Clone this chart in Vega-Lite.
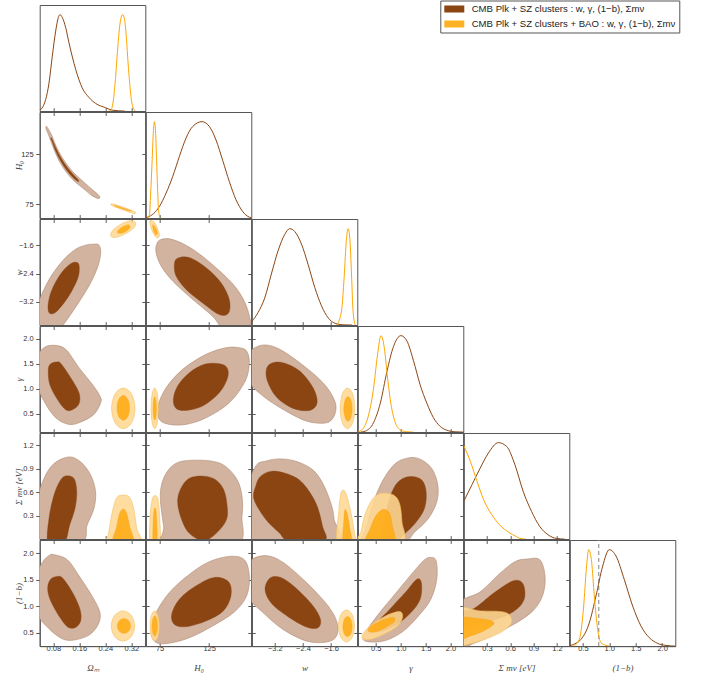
{
  "$schema": "https://vega.github.io/schema/vega-lite/v6.json",
  "background": "white",
  "padding": {"left": 13.7, "top": 0, "right": 5, "bottom": 5},
  "columns": 6,
  "spacing": 0,
  "bounds": "flush",
  "resolve": {"scale": {"x": "independent", "y": "independent"}},
  "config": {
    "view": {"stroke": "#555", "strokeWidth": 1},
    "axis": {"domain": true, "domainColor": "#555", "domainWidth": 1, "grid": false, "tickSize": -3.5, "tickColor": "#333", "tickWidth": 0.8, "labelFont": "Liberation Sans", "labelFontSize": 7.5, "labelColor": "#333", "labelPadding": 1.5, "titleFont": "Liberation Serif", "titleFontStyle": "italic", "titleFontWeight": "normal", "titleFontSize": 9, "titleColor": "#444", "zindex": 1}
  },
  "concat": [
    {"width": 105.6, "height": 106.1,
     "data": {"values": [
      {"s":"A","x":0.038,"d":0.007},{"s":"A","x":0.0564,"d":0.12},{"s":"A","x":0.0666,"d":0.29},{"s":"A","x":0.0768,"d":0.57},{"s":"A","x":0.0872,"d":0.83},{"s":"A","x":0.0953,"d":0.97},{"s":"A","x":0.1005,"d":1.0},{"s":"A","x":0.1077,"d":0.97},{"s":"A","x":0.118,"d":0.865},{"s":"A","x":0.128,"d":0.71},{"s":"A","x":0.149,"d":0.43},{"s":"A","x":0.169,"d":0.24},{"s":"A","x":0.19,"d":0.14},{"s":"A","x":0.21,"d":0.08},{"s":"A","x":0.241,"d":0.035},{"s":"A","x":0.261,"d":0.01},{"s":"A","x":0.3,"d":0.0},
      {"s":"B","x":0.25,"d":0.0},{"s":"B","x":0.2564,"d":0.007},{"s":"B","x":0.265,"d":0.12},{"s":"B","x":0.2718,"d":0.36},{"s":"B","x":0.277,"d":0.6},{"s":"B","x":0.282,"d":0.81},{"s":"B","x":0.2872,"d":0.95},{"s":"B","x":0.2934,"d":1.0},{"s":"B","x":0.2995,"d":0.94},{"s":"B","x":0.305,"d":0.75},{"s":"B","x":0.31,"d":0.5},{"s":"B","x":0.315,"d":0.29},{"s":"B","x":0.32,"d":0.12},{"s":"B","x":0.325,"d":0.04},{"s":"B","x":0.333,"d":0.0}
     ]},
     "encoding": {
      "x": {"field": "x", "type": "quantitative", "scale": {"domain": [0.038, 0.363]}, "axis": {"values": [0.08, 0.16, 0.24, 0.32], "labels": false, "title": null}},
      "y": {"field": "d", "type": "quantitative", "scale": {"domain": [0, 1.1]}, "axis": null}
     },
     "layer": [
      {"transform": [{"filter": "datum.s=='A'"}], "mark": {"type": "line", "interpolate": "monotone", "clip": true, "stroke": "#8b4513", "strokeWidth": 1}},
      {"transform": [{"filter": "datum.s=='B'"}], "mark": {"type": "line", "interpolate": "monotone", "clip": true, "stroke": "#ffa500", "strokeWidth": 1}},
      {"data": {"values": [
        {"lab": "CMB Plk + SZ clusters : w, γ, (1−b), Σmν", "x": 0.2, "d": 0.5},
        {"lab": "CMB Plk + SZ clusters + BAO : w, γ, (1−b), Σmν", "x": 0.2, "d": 0.5}
       ]},
       "mark": {"type": "square", "opacity": 0},
       "encoding": {"color": {"field": "lab", "type": "nominal",
         "scale": {"domain": ["CMB Plk + SZ clusters : w, γ, (1−b), Σmν", "CMB Plk + SZ clusters + BAO : w, γ, (1−b), Σmν"], "range": ["#8b4513", "#ffb124"]},
         "legend": {"title": null, "orient": "none", "legendX": 400.6, "legendY": -4.5, "direction": "vertical", "symbolType": "M-2,-0.7H2V0.7H-2Z", "symbolSize": 100, "symbolOpacity": 1, "symbolStrokeWidth": 0, "symbolOffset": 5.5, "labelOffset": 12.4, "labelFont": "Liberation Sans", "labelFontSize": 9.6, "labelColor": "#222", "labelLimit": 500, "strokeColor": "#555", "fillColor": "white", "padding": 3.5, "rowPadding": 5}}}}
     ]},
    {"width": 105.6, "height": 106.1, "view": {"stroke": null}, "data": {"values": [{"x": 0}]}, "mark": {"type": "point", "opacity": 0}},
    {"width": 105.6, "height": 106.1, "view": {"stroke": null}, "data": {"values": [{"x": 0}]}, "mark": {"type": "point", "opacity": 0}},
    {"width": 105.6, "height": 106.1, "view": {"stroke": null}, "data": {"values": [{"x": 0}]}, "mark": {"type": "point", "opacity": 0}},
    {"width": 105.6, "height": 106.1, "view": {"stroke": null}, "data": {"values": [{"x": 0}]}, "mark": {"type": "point", "opacity": 0}},
    {"width": 105.6, "height": 106.1, "view": {"stroke": null}, "data": {"values": [{"x": 0}]}, "mark": {"type": "point", "opacity": 0}},

    {"width": 105.6, "height": 106.1,
     "data": {"values": [
      {"c":"A95","o":1,"x":0.0585,"y":153.3},{"c":"A95","o":2,"x":0.066,"y":149.5},{"c":"A95","o":3,"x":0.0749,"y":144.3},{"c":"A95","o":4,"x":0.0872,"y":134.3},{"c":"A95","o":5,"x":0.1026,"y":124.3},{"c":"A95","o":6,"x":0.123,"y":114.2},{"c":"A95","o":7,"x":0.1435,"y":106.4},{"c":"A95","o":8,"x":0.1568,"y":102.2},{"c":"A95","o":9,"x":0.18,"y":95.3},{"c":"A95","o":10,"x":0.2,"y":89.6},{"c":"A95","o":11,"x":0.2214,"y":83.3},{"c":"A95","o":12,"x":0.2195,"y":80.6},{"c":"A95","o":13,"x":0.2,"y":83.3},{"c":"A95","o":14,"x":0.18,"y":88.6},{"c":"A95","o":15,"x":0.1568,"y":94.7},{"c":"A95","o":16,"x":0.1435,"y":98.4},{"c":"A95","o":17,"x":0.123,"y":105.8},{"c":"A95","o":18,"x":0.1026,"y":115.6},{"c":"A95","o":19,"x":0.0872,"y":125.7},{"c":"A95","o":20,"x":0.0749,"y":135.8},{"c":"A95","o":21,"x":0.064,"y":145.5},{"c":"A95","o":22,"x":0.0575,"y":150.5},
      {"c":"A68","o":1,"x":0.0749,"y":141.2},{"c":"A68","o":2,"x":0.0872,"y":131.9},{"c":"A68","o":3,"x":0.1026,"y":121.9},{"c":"A68","o":4,"x":0.123,"y":111.9},{"c":"A68","o":5,"x":0.1435,"y":104},{"c":"A68","o":6,"x":0.1568,"y":99.3},{"c":"A68","o":7,"x":0.1575,"y":98.4},{"c":"A68","o":8,"x":0.1568,"y":97.6},{"c":"A68","o":9,"x":0.1435,"y":100.8},{"c":"A68","o":10,"x":0.123,"y":108.3},{"c":"A68","o":11,"x":0.1026,"y":118.3},{"c":"A68","o":12,"x":0.0872,"y":128.3},{"c":"A68","o":13,"x":0.0749,"y":139},{"c":"A68","o":14,"x":0.072,"y":140.5},
      {"c":"B95","o":1,"x":0.257,"y":75.2},{"c":"B95","o":2,"x":0.27,"y":74.7},{"c":"B95","o":3,"x":0.29,"y":72.5},{"c":"B95","o":4,"x":0.31,"y":70.2},{"c":"B95","o":5,"x":0.325,"y":68.2},{"c":"B95","o":6,"x":0.334,"y":66.6},{"c":"B95","o":7,"x":0.331,"y":65.4},{"c":"B95","o":8,"x":0.32,"y":66.3},{"c":"B95","o":9,"x":0.3,"y":68.6},{"c":"B95","o":10,"x":0.28,"y":71},{"c":"B95","o":11,"x":0.262,"y":73.2},
      {"c":"B68","o":1,"x":0.27,"y":73.6},{"c":"B68","o":2,"x":0.29,"y":71.6},{"c":"B68","o":3,"x":0.31,"y":69.3},{"c":"B68","o":4,"x":0.32,"y":68.2},{"c":"B68","o":5,"x":0.31,"y":68.5},{"c":"B68","o":6,"x":0.29,"y":70.6},{"c":"B68","o":7,"x":0.272,"y":72.7}
     ]},
     "encoding": {
      "x": {"field": "x", "type": "quantitative", "scale": {"domain": [0.038, 0.363]}, "axis": null},
      "y": {"field": "y", "type": "quantitative", "scale": {"domain": [61, 167.5]}, "axis": null},
      "order": {"field": "o"}
     },
     "layer": [
      {"transform": [{"filter": "datum.c=='A95'"}], "mark": {"type": "line", "interpolate": "cardinal-closed", "clip": true, "fill": "#d1b39f", "stroke": "#b08b74", "strokeWidth": 0.6}},
      {"transform": [{"filter": "datum.c=='A68'"}], "mark": {"type": "line", "interpolate": "cardinal-closed", "clip": true, "fill": "#8b4513", "stroke": "#8b4513", "strokeWidth": 0.4}},
      {"transform": [{"filter": "datum.c=='B95'"}], "mark": {"type": "line", "interpolate": "cardinal-closed", "clip": true, "fill": "#ffd893", "fillOpacity": 0.88, "stroke": "#f3c060", "strokeWidth": 0.6}},
      {"transform": [{"filter": "datum.c=='B68'"}], "mark": {"type": "line", "interpolate": "cardinal-closed", "clip": true, "fill": "#ffab13", "fillOpacity": 0.88, "stroke": "#f5a623", "strokeWidth": 0.4}},
      {"mark": {"type": "point", "opacity": 0, "clip": true}, "encoding": {
        "x": {"field": "x", "type": "quantitative", "scale": {"domain": [0.038, 0.363]}, "axis": {"values": [0.08, 0.16, 0.24, 0.32], "labels": false, "title": null}},
        "y": {"field": "y", "type": "quantitative", "scale": {"domain": [61, 167.5]}, "axis": {"values": [75, 125], "format": "d", "tickSize": 4, "labelPadding": 2.5, "title": "H₀", "titleX": -21, "titleBaseline": "middle"}}}},
      {"mark": {"type": "point", "opacity": 0, "clip": true}, "encoding": {
        "x": {"field": "x", "type": "quantitative", "scale": {"domain": [0.038, 0.363]}, "axis": {"orient": "top", "values": [0.08, 0.16, 0.24, 0.32], "labels": false, "title": null}},
        "y": {"field": "y", "type": "quantitative", "scale": {"domain": [61, 167.5]}, "axis": {"orient": "right", "values": [75, 125], "labels": false, "title": null}}}}
     ],
     "resolve": {"axis": {"x": "independent", "y": "independent"}}},
    {"width": 105.6, "height": 106.1,
     "data": {"values": [
      {"s":"A","x":61,"d":0.004},{"s":"A","x":63,"d":0.01},{"s":"A","x":74.8,"d":0.12},{"s":"A","x":81.6,"d":0.26},{"s":"A","x":88.2,"d":0.43},{"s":"A","x":95,"d":0.64},{"s":"A","x":101.7,"d":0.83},{"s":"A","x":108.4,"d":0.95},{"s":"A","x":117.8,"d":1.0},{"s":"A","x":125.2,"d":0.95},{"s":"A","x":131.9,"d":0.81},{"s":"A","x":138.6,"d":0.6},{"s":"A","x":145.3,"d":0.38},{"s":"A","x":152.1,"d":0.19},{"s":"A","x":158.7,"d":0.07},{"s":"A","x":165.5,"d":0.01},{"s":"A","x":167.5,"d":0.005},
      {"s":"B","x":63,"d":0.0},{"s":"B","x":64.7,"d":0.03},{"s":"B","x":66,"d":0.25},{"s":"B","x":67.5,"d":0.6},{"s":"B","x":68.5,"d":0.85},{"s":"B","x":69.8,"d":1.0},{"s":"B","x":71,"d":0.88},{"s":"B","x":72,"d":0.6},{"s":"B","x":73,"d":0.3},{"s":"B","x":74,"d":0.08},{"s":"B","x":75.5,"d":0.0}
     ]},
     "encoding": {
      "x": {"field": "x", "type": "quantitative", "scale": {"domain": [61, 167.5]}, "axis": {"values": [75, 125], "labels": false, "title": null}},
      "y": {"field": "d", "type": "quantitative", "scale": {"domain": [0, 1.1]}, "axis": null}
     },
     "layer": [
      {"transform": [{"filter": "datum.s=='A'"}], "mark": {"type": "line", "interpolate": "monotone", "clip": true, "stroke": "#8b4513", "strokeWidth": 1}},
      {"transform": [{"filter": "datum.s=='B'"}], "mark": {"type": "line", "interpolate": "monotone", "clip": true, "stroke": "#ffa500", "strokeWidth": 1}}
     ]},
    {"width": 105.6, "height": 106.1, "view": {"stroke": null}, "data": {"values": [{"x": 0}]}, "mark": {"type": "point", "opacity": 0}},
    {"width": 105.6, "height": 106.1, "view": {"stroke": null}, "data": {"values": [{"x": 0}]}, "mark": {"type": "point", "opacity": 0}},
    {"width": 105.6, "height": 106.1, "view": {"stroke": null}, "data": {"values": [{"x": 0}]}, "mark": {"type": "point", "opacity": 0}},
    {"width": 105.6, "height": 106.1, "view": {"stroke": null}, "data": {"values": [{"x": 0}]}, "mark": {"type": "point", "opacity": 0}},

    {"width": 105.6, "height": 106.1,
     "data": {"values": [
      {"c":"A95","o":1,"x":0.205,"y":-1.567},{"c":"A95","o":2,"x":0.2205,"y":-1.596},{"c":"A95","o":3,"x":0.2257,"y":-1.81},{"c":"A95","o":4,"x":0.2175,"y":-2.185},{"c":"A95","o":5,"x":0.195,"y":-2.66},{"c":"A95","o":6,"x":0.164,"y":-3.134},{"c":"A95","o":7,"x":0.1334,"y":-3.56},{"c":"A95","o":8,"x":0.1076,"y":-3.895},{"c":"A95","o":9,"x":0.0872,"y":-4.13},{"c":"A95","o":10,"x":0.0257,"y":-4.13},{"c":"A95","o":11,"x":0.0205,"y":-3.85},{"c":"A95","o":12,"x":0.0306,"y":-3.325},{"c":"A95","o":13,"x":0.0512,"y":-2.85},{"c":"A95","o":14,"x":0.0768,"y":-2.42},{"c":"A95","o":15,"x":0.1128,"y":-1.995},{"c":"A95","o":16,"x":0.1488,"y":-1.71},{"c":"A95","o":17,"x":0.1795,"y":-1.596},
      {"c":"A68","o":1,"x":0.1537,"y":-2.09},{"c":"A68","o":2,"x":0.1599,"y":-2.234},{"c":"A68","o":3,"x":0.1558,"y":-2.519},{"c":"A68","o":4,"x":0.1365,"y":-2.898},{"c":"A68","o":5,"x":0.1128,"y":-3.231},{"c":"A68","o":6,"x":0.0872,"y":-3.496},{"c":"A68","o":7,"x":0.0697,"y":-3.533},{"c":"A68","o":8,"x":0.0635,"y":-3.374},{"c":"A68","o":9,"x":0.0688,"y":-3.04},{"c":"A68","o":10,"x":0.0842,"y":-2.69},{"c":"A68","o":11,"x":0.1075,"y":-2.348},{"c":"A68","o":12,"x":0.1334,"y":-2.12},
      {"c":"B95","o":1,"x":0.2565,"y":-1.282},{"c":"B95","o":2,"x":0.2666,"y":-1.14},{"c":"B95","o":3,"x":0.2922,"y":-0.98},{"c":"B95","o":4,"x":0.318,"y":-0.903},{"c":"B95","o":5,"x":0.3334,"y":-0.96},{"c":"B95","o":6,"x":0.328,"y":-1.103},{"c":"B95","o":7,"x":0.3075,"y":-1.245},{"c":"B95","o":8,"x":0.2768,"y":-1.368},{"c":"B95","o":9,"x":0.2595,"y":-1.36},
      {"c":"B68","o":1,"x":0.2768,"y":-1.208},{"c":"B68","o":2,"x":0.2922,"y":-1.083},{"c":"B68","o":3,"x":0.3106,"y":-1.017},{"c":"B68","o":4,"x":0.3158,"y":-1.094},{"c":"B68","o":5,"x":0.3026,"y":-1.208},{"c":"B68","o":6,"x":0.284,"y":-1.265}
     ]},
     "encoding": {
      "x": {"field": "x", "type": "quantitative", "scale": {"domain": [0.038, 0.363]}, "axis": null},
      "y": {"field": "y", "type": "quantitative", "scale": {"domain": [-3.86, -0.855]}, "axis": null},
      "order": {"field": "o"}
     },
     "layer": [
      {"transform": [{"filter": "datum.c=='A95'"}], "mark": {"type": "line", "interpolate": "cardinal-closed", "clip": true, "fill": "#d1b39f", "stroke": "#b08b74", "strokeWidth": 0.6}},
      {"transform": [{"filter": "datum.c=='A68'"}], "mark": {"type": "line", "interpolate": "cardinal-closed", "clip": true, "fill": "#8b4513", "stroke": "#8b4513", "strokeWidth": 0.4}},
      {"transform": [{"filter": "datum.c=='B95'"}], "mark": {"type": "line", "interpolate": "cardinal-closed", "clip": true, "fill": "#ffd893", "fillOpacity": 0.88, "stroke": "#f3c060", "strokeWidth": 0.6}},
      {"transform": [{"filter": "datum.c=='B68'"}], "mark": {"type": "line", "interpolate": "cardinal-closed", "clip": true, "fill": "#ffab13", "fillOpacity": 0.88, "stroke": "#f5a623", "strokeWidth": 0.4}},
      {"mark": {"type": "point", "opacity": 0, "clip": true}, "encoding": {
        "x": {"field": "x", "type": "quantitative", "scale": {"domain": [0.038, 0.363]}, "axis": {"values": [0.08, 0.16, 0.24, 0.32], "labels": false, "title": null}},
        "y": {"field": "y", "type": "quantitative", "scale": {"domain": [-3.86, -0.855]}, "axis": {"values": [-3.2, -2.4, -1.6], "format": ".1f", "tickSize": 4, "labelPadding": 2.5, "title": "w", "titleX": -21, "titleBaseline": "middle"}}}},
      {"mark": {"type": "point", "opacity": 0, "clip": true}, "encoding": {
        "x": {"field": "x", "type": "quantitative", "scale": {"domain": [0.038, 0.363]}, "axis": {"orient": "top", "values": [0.08, 0.16, 0.24, 0.32], "labels": false, "title": null}},
        "y": {"field": "y", "type": "quantitative", "scale": {"domain": [-3.86, -0.855]}, "axis": {"orient": "right", "values": [-3.2, -2.4, -1.6], "labels": false, "title": null}}}}
     ],
     "resolve": {"axis": {"x": "independent", "y": "independent"}}},
    {"width": 105.6, "height": 106.1,
     "data": {"values": [
      {"c":"A95","o":1,"x":72.1,"y":-1.567},{"c":"A95","o":2,"x":76.5,"y":-1.436},{"c":"A95","o":3,"x":88.2,"y":-1.436},{"c":"A95","o":4,"x":108.4,"y":-1.71},{"c":"A95","o":5,"x":131.9,"y":-2.234},{"c":"A95","o":6,"x":152.1,"y":-2.803},{"c":"A95","o":7,"x":163.8,"y":-3.419},{"c":"A95","o":8,"x":165.5,"y":-4.04},{"c":"A95","o":9,"x":142,"y":-4.04},{"c":"A95","o":10,"x":128.5,"y":-3.61},{"c":"A95","o":11,"x":108.4,"y":-3.134},{"c":"A95","o":12,"x":88.2,"y":-2.612},{"c":"A95","o":13,"x":76.5,"y":-2.185},{"c":"A95","o":14,"x":71.5,"y":-1.81},
      {"c":"A68","o":1,"x":93.2,"y":-1.966},{"c":"A68","o":2,"x":105,"y":-1.948},{"c":"A68","o":3,"x":121.9,"y":-2.234},{"c":"A68","o":4,"x":137,"y":-2.66},{"c":"A68","o":5,"x":145.3,"y":-3.134},{"c":"A68","o":6,"x":144.6,"y":-3.516},{"c":"A68","o":7,"x":135.2,"y":-3.562},{"c":"A68","o":8,"x":118.4,"y":-3.231},{"c":"A68","o":9,"x":101.7,"y":-2.85},{"c":"A68","o":10,"x":91.6,"y":-2.47},{"c":"A68","o":11,"x":89.9,"y":-2.137},
      {"c":"B95","o":1,"x":65.4,"y":-0.903},{"c":"B95","o":2,"x":69.8,"y":-0.95},{"c":"B95","o":3,"x":73.5,"y":-1.168},{"c":"B95","o":4,"x":74.8,"y":-1.33},{"c":"B95","o":5,"x":72.1,"y":-1.387},{"c":"B95","o":6,"x":68.8,"y":-1.265},{"c":"B95","o":7,"x":66,"y":-1.074},
      {"c":"B68","o":1,"x":68.1,"y":-1.017},{"c":"B68","o":2,"x":71.1,"y":-1.111},{"c":"B68","o":3,"x":72.8,"y":-1.265},{"c":"B68","o":4,"x":70.8,"y":-1.293},{"c":"B68","o":5,"x":68.8,"y":-1.168}
     ]},
     "encoding": {
      "x": {"field": "x", "type": "quantitative", "scale": {"domain": [61, 167.5]}, "axis": null},
      "y": {"field": "y", "type": "quantitative", "scale": {"domain": [-3.86, -0.855]}, "axis": null},
      "order": {"field": "o"}
     },
     "layer": [
      {"transform": [{"filter": "datum.c=='A95'"}], "mark": {"type": "line", "interpolate": "cardinal-closed", "clip": true, "fill": "#d1b39f", "stroke": "#b08b74", "strokeWidth": 0.6}},
      {"transform": [{"filter": "datum.c=='A68'"}], "mark": {"type": "line", "interpolate": "cardinal-closed", "clip": true, "fill": "#8b4513", "stroke": "#8b4513", "strokeWidth": 0.4}},
      {"transform": [{"filter": "datum.c=='B95'"}], "mark": {"type": "line", "interpolate": "cardinal-closed", "clip": true, "fill": "#ffd893", "fillOpacity": 0.88, "stroke": "#f3c060", "strokeWidth": 0.6}},
      {"transform": [{"filter": "datum.c=='B68'"}], "mark": {"type": "line", "interpolate": "cardinal-closed", "clip": true, "fill": "#ffab13", "fillOpacity": 0.88, "stroke": "#f5a623", "strokeWidth": 0.4}},
      {"mark": {"type": "point", "opacity": 0, "clip": true}, "encoding": {
        "x": {"field": "x", "type": "quantitative", "scale": {"domain": [61, 167.5]}, "axis": {"values": [75, 125], "labels": false, "title": null}},
        "y": {"field": "y", "type": "quantitative", "scale": {"domain": [-3.86, -0.855]}, "axis": {"values": [-3.2, -2.4, -1.6], "labels": false, "title": null}}}},
      {"mark": {"type": "point", "opacity": 0, "clip": true}, "encoding": {
        "x": {"field": "x", "type": "quantitative", "scale": {"domain": [61, 167.5]}, "axis": {"orient": "top", "values": [75, 125], "labels": false, "title": null}},
        "y": {"field": "y", "type": "quantitative", "scale": {"domain": [-3.86, -0.855]}, "axis": {"orient": "right", "values": [-3.2, -2.4, -1.6], "labels": false, "title": null}}}}
     ],
     "resolve": {"axis": {"x": "independent", "y": "independent"}}},
    {"width": 105.6, "height": 106.1,
     "data": {"values": [
      {"s":"A","x":-3.86,"d":0.035},{"s":"A","x":-3.68,"d":0.13},{"s":"A","x":-3.49,"d":0.28},{"s":"A","x":-3.3,"d":0.53},{"s":"A","x":-3.11,"d":0.77},{"s":"A","x":-2.92,"d":0.94},{"s":"A","x":-2.777,"d":1.0},{"s":"A","x":-2.635,"d":0.97},{"s":"A","x":-2.444,"d":0.84},{"s":"A","x":-2.256,"d":0.63},{"s":"A","x":-2.065,"d":0.39},{"s":"A","x":-1.874,"d":0.2},{"s":"A","x":-1.686,"d":0.076},{"s":"A","x":-1.495,"d":0.02},{"s":"A","x":-1.26,"d":0.003},{"s":"A","x":-1.0,"d":0.0},
      {"s":"B","x":-1.45,"d":0.0},{"s":"B","x":-1.43,"d":0.007},{"s":"B","x":-1.305,"d":0.145},{"s":"B","x":-1.23,"d":0.49},{"s":"B","x":-1.162,"d":0.9},{"s":"B","x":-1.116,"d":1.0},{"s":"B","x":-1.068,"d":0.9},{"s":"B","x":-1.02,"d":0.53},{"s":"B","x":-0.975,"d":0.145},{"s":"B","x":-0.918,"d":0.007},{"s":"B","x":-0.9,"d":0.0}
     ]},
     "encoding": {
      "x": {"field": "x", "type": "quantitative", "scale": {"domain": [-3.86, -0.855]}, "axis": {"values": [-3.2, -2.4, -1.6], "labels": false, "title": null}},
      "y": {"field": "d", "type": "quantitative", "scale": {"domain": [0, 1.1]}, "axis": null}
     },
     "layer": [
      {"transform": [{"filter": "datum.s=='A'"}], "mark": {"type": "line", "interpolate": "monotone", "clip": true, "stroke": "#8b4513", "strokeWidth": 1}},
      {"transform": [{"filter": "datum.s=='B'"}], "mark": {"type": "line", "interpolate": "monotone", "clip": true, "stroke": "#ffa500", "strokeWidth": 1}}
     ]},
    {"width": 105.6, "height": 106.1, "view": {"stroke": null}, "data": {"values": [{"x": 0}]}, "mark": {"type": "point", "opacity": 0}},
    {"width": 105.6, "height": 106.1, "view": {"stroke": null}, "data": {"values": [{"x": 0}]}, "mark": {"type": "point", "opacity": 0}},
    {"width": 105.6, "height": 106.1, "view": {"stroke": null}, "data": {"values": [{"x": 0}]}, "mark": {"type": "point", "opacity": 0}},

    {"width": 105.6, "height": 106.1,
     "data": {"values": [
      {"c":"A95","o":1,"x":0.082,"y":1.87},{"c":"A95","o":2,"x":0.118,"y":1.79},{"c":"A95","o":3,"x":0.159,"y":1.423},{"c":"A95","o":4,"x":0.2,"y":1.09},{"c":"A95","o":5,"x":0.2235,"y":0.856},{"c":"A95","o":6,"x":0.2257,"y":0.722},{"c":"A95","o":7,"x":0.205,"y":0.49},{"c":"A95","o":8,"x":0.164,"y":0.336},{"c":"A95","o":9,"x":0.128,"y":0.29},{"c":"A95","o":10,"x":0.0872,"y":0.422},{"c":"A95","o":11,"x":0.0512,"y":0.756},{"c":"A95","o":12,"x":0.0257,"y":1.156},{"c":"A95","o":13,"x":0.0306,"y":1.622},{"c":"A95","o":14,"x":0.0512,"y":1.822},
      {"c":"A68","o":1,"x":0.0891,"y":1.536},{"c":"A68","o":2,"x":0.1026,"y":1.51},{"c":"A68","o":3,"x":0.1334,"y":1.222},{"c":"A68","o":4,"x":0.159,"y":0.922},{"c":"A68","o":5,"x":0.159,"y":0.702},{"c":"A68","o":6,"x":0.1383,"y":0.582},{"c":"A68","o":7,"x":0.118,"y":0.582},{"c":"A68","o":8,"x":0.0922,"y":0.79},{"c":"A68","o":9,"x":0.0688,"y":1.09},{"c":"A68","o":10,"x":0.0645,"y":1.39},{"c":"A68","o":11,"x":0.0718,"y":1.502},
      {"c":"B95","o":1,"x":0.3313,"y":0.61},{"c":"B95","o":2,"x":0.3208,"y":0.897},{"c":"B95","o":3,"x":0.2953,"y":1.016},{"c":"B95","o":4,"x":0.2698,"y":0.897},{"c":"B95","o":5,"x":0.2593,"y":0.61},{"c":"B95","o":6,"x":0.2698,"y":0.323},{"c":"B95","o":7,"x":0.2953,"y":0.204},{"c":"B95","o":8,"x":0.3208,"y":0.323},
      {"c":"B68","o":1,"x":0.3148,"y":0.62},{"c":"B68","o":2,"x":0.309,"y":0.795},{"c":"B68","o":3,"x":0.2953,"y":0.867},{"c":"B68","o":4,"x":0.2815,"y":0.795},{"c":"B68","o":5,"x":0.2758,"y":0.62},{"c":"B68","o":6,"x":0.2815,"y":0.445},{"c":"B68","o":7,"x":0.2953,"y":0.373},{"c":"B68","o":8,"x":0.309,"y":0.445}
     ]},
     "encoding": {
      "x": {"field": "x", "type": "quantitative", "scale": {"domain": [0.038, 0.363]}, "axis": null},
      "y": {"field": "y", "type": "quantitative", "scale": {"domain": [0.136, 2.256]}, "axis": null},
      "order": {"field": "o"}
     },
     "layer": [
      {"transform": [{"filter": "datum.c=='A95'"}], "mark": {"type": "line", "interpolate": "cardinal-closed", "clip": true, "fill": "#d1b39f", "stroke": "#b08b74", "strokeWidth": 0.6}},
      {"transform": [{"filter": "datum.c=='A68'"}], "mark": {"type": "line", "interpolate": "cardinal-closed", "clip": true, "fill": "#8b4513", "stroke": "#8b4513", "strokeWidth": 0.4}},
      {"transform": [{"filter": "datum.c=='B95'"}], "mark": {"type": "line", "interpolate": "cardinal-closed", "clip": true, "fill": "#ffd893", "fillOpacity": 0.88, "stroke": "#f3c060", "strokeWidth": 0.6}},
      {"transform": [{"filter": "datum.c=='B68'"}], "mark": {"type": "line", "interpolate": "cardinal-closed", "clip": true, "fill": "#ffab13", "fillOpacity": 0.88, "stroke": "#f5a623", "strokeWidth": 0.4}},
      {"mark": {"type": "point", "opacity": 0, "clip": true}, "encoding": {
        "x": {"field": "x", "type": "quantitative", "scale": {"domain": [0.038, 0.363]}, "axis": {"values": [0.08, 0.16, 0.24, 0.32], "labels": false, "title": null}},
        "y": {"field": "y", "type": "quantitative", "scale": {"domain": [0.136, 2.256]}, "axis": {"values": [0.5, 1, 1.5, 2], "format": ".1f", "tickSize": 4, "labelPadding": 2.5, "title": "γ", "titleX": -21, "titleBaseline": "middle"}}}},
      {"mark": {"type": "point", "opacity": 0, "clip": true}, "encoding": {
        "x": {"field": "x", "type": "quantitative", "scale": {"domain": [0.038, 0.363]}, "axis": {"orient": "top", "values": [0.08, 0.16, 0.24, 0.32], "labels": false, "title": null}},
        "y": {"field": "y", "type": "quantitative", "scale": {"domain": [0.136, 2.256]}, "axis": {"orient": "right", "values": [0.5, 1, 1.5, 2], "labels": false, "title": null}}}}
     ],
     "resolve": {"axis": {"x": "independent", "y": "independent"}}},
    {"width": 105.6, "height": 106.1,
     "data": {"values": [
      {"c":"A95","o":1,"x":155.4,"y":1.822},{"c":"A95","o":2,"x":162.8,"y":1.756},{"c":"A95","o":3,"x":165.5,"y":1.522},{"c":"A95","o":4,"x":161.4,"y":1.156},{"c":"A95","o":5,"x":145.3,"y":0.722},{"c":"A95","o":6,"x":121.9,"y":0.422},{"c":"A95","o":7,"x":101.7,"y":0.29},{"c":"A95","o":8,"x":84.9,"y":0.29},{"c":"A95","o":9,"x":74.8,"y":0.39},{"c":"A95","o":10,"x":73.5,"y":0.656},{"c":"A95","o":11,"x":81.6,"y":1.022},{"c":"A95","o":12,"x":98.3,"y":1.39},{"c":"A95","o":13,"x":121.9,"y":1.69},{"c":"A95","o":14,"x":142,"y":1.822},
      {"c":"A68","o":1,"x":135.2,"y":1.502},{"c":"A68","o":2,"x":143,"y":1.422},{"c":"A68","o":3,"x":143.6,"y":1.222},{"c":"A68","o":4,"x":135.2,"y":0.922},{"c":"A68","o":5,"x":118.4,"y":0.656},{"c":"A68","o":6,"x":101.7,"y":0.57},{"c":"A68","o":7,"x":91.6,"y":0.61},{"c":"A68","o":8,"x":88.9,"y":0.79},{"c":"A68","o":9,"x":93.2,"y":1.056},{"c":"A68","o":10,"x":105,"y":1.322},{"c":"A68","o":11,"x":120.1,"y":1.49},
      {"c":"B95","o":1,"x":73.8,"y":0.61},{"c":"B95","o":2,"x":72.7,"y":0.897},{"c":"B95","o":3,"x":70.1,"y":1.016},{"c":"B95","o":4,"x":67.5,"y":0.897},{"c":"B95","o":5,"x":66.4,"y":0.61},{"c":"B95","o":6,"x":67.5,"y":0.323},{"c":"B95","o":7,"x":70.1,"y":0.204},{"c":"B95","o":8,"x":72.7,"y":0.323},
      {"c":"B68","o":1,"x":71.8,"y":0.61},{"c":"B68","o":2,"x":71.3,"y":0.775},{"c":"B68","o":3,"x":70.1,"y":0.843},{"c":"B68","o":4,"x":68.9,"y":0.775},{"c":"B68","o":5,"x":68.4,"y":0.61},{"c":"B68","o":6,"x":68.9,"y":0.445},{"c":"B68","o":7,"x":70.1,"y":0.377},{"c":"B68","o":8,"x":71.3,"y":0.445}
     ]},
     "encoding": {
      "x": {"field": "x", "type": "quantitative", "scale": {"domain": [61, 167.5]}, "axis": null},
      "y": {"field": "y", "type": "quantitative", "scale": {"domain": [0.136, 2.256]}, "axis": null},
      "order": {"field": "o"}
     },
     "layer": [
      {"transform": [{"filter": "datum.c=='A95'"}], "mark": {"type": "line", "interpolate": "cardinal-closed", "clip": true, "fill": "#d1b39f", "stroke": "#b08b74", "strokeWidth": 0.6}},
      {"transform": [{"filter": "datum.c=='A68'"}], "mark": {"type": "line", "interpolate": "cardinal-closed", "clip": true, "fill": "#8b4513", "stroke": "#8b4513", "strokeWidth": 0.4}},
      {"transform": [{"filter": "datum.c=='B95'"}], "mark": {"type": "line", "interpolate": "cardinal-closed", "clip": true, "fill": "#ffd893", "fillOpacity": 0.88, "stroke": "#f3c060", "strokeWidth": 0.6}},
      {"transform": [{"filter": "datum.c=='B68'"}], "mark": {"type": "line", "interpolate": "cardinal-closed", "clip": true, "fill": "#ffab13", "fillOpacity": 0.88, "stroke": "#f5a623", "strokeWidth": 0.4}},
      {"mark": {"type": "point", "opacity": 0, "clip": true}, "encoding": {
        "x": {"field": "x", "type": "quantitative", "scale": {"domain": [61, 167.5]}, "axis": {"values": [75, 125], "labels": false, "title": null}},
        "y": {"field": "y", "type": "quantitative", "scale": {"domain": [0.136, 2.256]}, "axis": {"values": [0.5, 1, 1.5, 2], "labels": false, "title": null}}}},
      {"mark": {"type": "point", "opacity": 0, "clip": true}, "encoding": {
        "x": {"field": "x", "type": "quantitative", "scale": {"domain": [61, 167.5]}, "axis": {"orient": "top", "values": [75, 125], "labels": false, "title": null}},
        "y": {"field": "y", "type": "quantitative", "scale": {"domain": [0.136, 2.256]}, "axis": {"orient": "right", "values": [0.5, 1, 1.5, 2], "labels": false, "title": null}}}}
     ],
     "resolve": {"axis": {"x": "independent", "y": "independent"}}},
    {"width": 105.6, "height": 106.1,
     "data": {"values": [
      {"c":"A95","o":1,"x":-3.441,"y":1.876},{"c":"A95","o":2,"x":-3.062,"y":1.79},{"c":"A95","o":3,"x":-2.492,"y":1.522},{"c":"A95","o":4,"x":-1.829,"y":1.122},{"c":"A95","o":5,"x":-1.495,"y":0.756},{"c":"A95","o":6,"x":-1.495,"y":0.49},{"c":"A95","o":7,"x":-1.732,"y":0.322},{"c":"A95","o":8,"x":-2.302,"y":0.356},{"c":"A95","o":9,"x":-2.967,"y":0.59},{"c":"A95","o":10,"x":-3.538,"y":0.856},{"c":"A95","o":11,"x":-3.917,"y":1.156},{"c":"A95","o":12,"x":-3.917,"y":1.69},{"c":"A95","o":13,"x":-3.726,"y":1.836},
      {"c":"A68","o":1,"x":-3.299,"y":1.51},{"c":"A68","o":2,"x":-2.967,"y":1.522},{"c":"A68","o":3,"x":-2.492,"y":1.356},{"c":"A68","o":4,"x":-2.113,"y":1.022},{"c":"A68","o":5,"x":-1.999,"y":0.722},{"c":"A68","o":6,"x":-2.208,"y":0.57},{"c":"A68","o":7,"x":-2.683,"y":0.61},{"c":"A68","o":8,"x":-3.156,"y":0.836},{"c":"A68","o":9,"x":-3.413,"y":1.156},{"c":"A68","o":10,"x":-3.441,"y":1.39},
      {"c":"B95","o":1,"x":-0.924,"y":0.61},{"c":"B95","o":2,"x":-0.985,"y":0.897},{"c":"B95","o":3,"x":-1.133,"y":1.016},{"c":"B95","o":4,"x":-1.281,"y":0.897},{"c":"B95","o":5,"x":-1.342,"y":0.61},{"c":"B95","o":6,"x":-1.281,"y":0.323},{"c":"B95","o":7,"x":-1.133,"y":0.204},{"c":"B95","o":8,"x":-0.985,"y":0.323},
      {"c":"B68","o":1,"x":-1.0,"y":0.6},{"c":"B68","o":2,"x":-1.04,"y":0.775},{"c":"B68","o":3,"x":-1.12,"y":0.845},{"c":"B68","o":4,"x":-1.2,"y":0.775},{"c":"B68","o":5,"x":-1.24,"y":0.6},{"c":"B68","o":6,"x":-1.2,"y":0.425},{"c":"B68","o":7,"x":-1.12,"y":0.355},{"c":"B68","o":8,"x":-1.04,"y":0.425}
     ]},
     "encoding": {
      "x": {"field": "x", "type": "quantitative", "scale": {"domain": [-3.86, -0.855]}, "axis": null},
      "y": {"field": "y", "type": "quantitative", "scale": {"domain": [0.136, 2.256]}, "axis": null},
      "order": {"field": "o"}
     },
     "layer": [
      {"transform": [{"filter": "datum.c=='A95'"}], "mark": {"type": "line", "interpolate": "cardinal-closed", "clip": true, "fill": "#d1b39f", "stroke": "#b08b74", "strokeWidth": 0.6}},
      {"transform": [{"filter": "datum.c=='A68'"}], "mark": {"type": "line", "interpolate": "cardinal-closed", "clip": true, "fill": "#8b4513", "stroke": "#8b4513", "strokeWidth": 0.4}},
      {"transform": [{"filter": "datum.c=='B95'"}], "mark": {"type": "line", "interpolate": "cardinal-closed", "clip": true, "fill": "#ffd893", "fillOpacity": 0.88, "stroke": "#f3c060", "strokeWidth": 0.6}},
      {"transform": [{"filter": "datum.c=='B68'"}], "mark": {"type": "line", "interpolate": "cardinal-closed", "clip": true, "fill": "#ffab13", "fillOpacity": 0.88, "stroke": "#f5a623", "strokeWidth": 0.4}},
      {"mark": {"type": "point", "opacity": 0, "clip": true}, "encoding": {
        "x": {"field": "x", "type": "quantitative", "scale": {"domain": [-3.86, -0.855]}, "axis": {"values": [-3.2, -2.4, -1.6], "labels": false, "title": null}},
        "y": {"field": "y", "type": "quantitative", "scale": {"domain": [0.136, 2.256]}, "axis": {"values": [0.5, 1, 1.5, 2], "labels": false, "title": null}}}},
      {"mark": {"type": "point", "opacity": 0, "clip": true}, "encoding": {
        "x": {"field": "x", "type": "quantitative", "scale": {"domain": [-3.86, -0.855]}, "axis": {"orient": "top", "values": [-3.2, -2.4, -1.6], "labels": false, "title": null}},
        "y": {"field": "y", "type": "quantitative", "scale": {"domain": [0.136, 2.256]}, "axis": {"orient": "right", "values": [0.5, 1, 1.5, 2], "labels": false, "title": null}}}}
     ],
     "resolve": {"axis": {"x": "independent", "y": "independent"}}},
    {"width": 105.6, "height": 106.1,
     "data": {"values": [
      {"s":"A","x":0.2,"d":0.0},{"s":"A","x":0.29,"d":0.01},{"s":"A","x":0.456,"d":0.1},{"s":"A","x":0.59,"d":0.3},{"s":"A","x":0.724,"d":0.63},{"s":"A","x":0.856,"d":0.89},{"s":"A","x":1.004,"d":1.0},{"s":"A","x":1.124,"d":0.945},{"s":"A","x":1.256,"d":0.74},{"s":"A","x":1.39,"d":0.49},{"s":"A","x":1.524,"d":0.3},{"s":"A","x":1.656,"d":0.15},{"s":"A","x":1.79,"d":0.06},{"s":"A","x":1.924,"d":0.02},{"s":"A","x":2.09,"d":0.003},{"s":"A","x":2.256,"d":0.0},
      {"s":"B","x":0.136,"d":0.0},{"s":"B","x":0.156,"d":0.003},{"s":"B","x":0.256,"d":0.045},{"s":"B","x":0.356,"d":0.18},{"s":"B","x":0.456,"d":0.46},{"s":"B","x":0.536,"d":0.81},{"s":"B","x":0.604,"d":1.0},{"s":"B","x":0.67,"d":0.875},{"s":"B","x":0.736,"d":0.56},{"s":"B","x":0.804,"d":0.29},{"s":"B","x":0.89,"d":0.1},{"s":"B","x":0.99,"d":0.024},{"s":"B","x":1.124,"d":0.003},{"s":"B","x":1.25,"d":0.0}
     ]},
     "encoding": {
      "x": {"field": "x", "type": "quantitative", "scale": {"domain": [0.136, 2.256]}, "axis": {"values": [0.5, 1, 1.5, 2], "labels": false, "title": null}},
      "y": {"field": "d", "type": "quantitative", "scale": {"domain": [0, 1.1]}, "axis": null}
     },
     "layer": [
      {"transform": [{"filter": "datum.s=='A'"}], "mark": {"type": "line", "interpolate": "monotone", "clip": true, "stroke": "#8b4513", "strokeWidth": 1}},
      {"transform": [{"filter": "datum.s=='B'"}], "mark": {"type": "line", "interpolate": "monotone", "clip": true, "stroke": "#ffa500", "strokeWidth": 1}}
     ]},
    {"width": 105.6, "height": 106.1, "view": {"stroke": null}, "data": {"values": [{"x": 0}]}, "mark": {"type": "point", "opacity": 0}},
    {"width": 105.6, "height": 106.1, "view": {"stroke": null}, "data": {"values": [{"x": 0}]}, "mark": {"type": "point", "opacity": 0}},

    {"width": 105.6, "height": 106.1,
     "data": {"values": [
      {"c":"A95","o":1,"x":0.128,"y":1.053},{"c":"A95","o":2,"x":0.164,"y":0.99},{"c":"A95","o":3,"x":0.195,"y":0.82},{"c":"A95","o":4,"x":0.21,"y":0.606},{"c":"A95","o":5,"x":0.205,"y":0.393},{"c":"A95","o":6,"x":0.184,"y":0.181},{"c":"A95","o":7,"x":0.164,"y":-0.05},{"c":"A95","o":8,"x":0.0257,"y":-0.05},{"c":"A95","o":9,"x":0.0306,"y":0.479},{"c":"A95","o":10,"x":0.0512,"y":0.776},{"c":"A95","o":11,"x":0.082,"y":0.968},
      {"c":"A68","o":1,"x":0.118,"y":0.81},{"c":"A68","o":2,"x":0.1436,"y":0.776},{"c":"A68","o":3,"x":0.152,"y":0.606},{"c":"A68","o":4,"x":0.1466,"y":0.393},{"c":"A68","o":5,"x":0.1303,"y":0.181},{"c":"A68","o":6,"x":0.1128,"y":-0.05},{"c":"A68","o":7,"x":0.0645,"y":-0.05},{"c":"A68","o":8,"x":0.0666,"y":0.265},{"c":"A68","o":9,"x":0.082,"y":0.564},{"c":"A68","o":10,"x":0.1005,"y":0.746},
      {"c":"B95","o":1,"x":0.241,"y":-0.05},{"c":"B95","o":2,"x":0.249,"y":0.053},{"c":"B95","o":3,"x":0.2595,"y":0.309},{"c":"B95","o":4,"x":0.2737,"y":0.521},{"c":"B95","o":5,"x":0.2943,"y":0.564},{"c":"B95","o":6,"x":0.3158,"y":0.53},{"c":"B95","o":7,"x":0.328,"y":0.373},{"c":"B95","o":8,"x":0.3365,"y":0.138},{"c":"B95","o":9,"x":0.346,"y":-0.05},
      {"c":"B68","o":1,"x":0.2645,"y":-0.05},{"c":"B68","o":2,"x":0.2737,"y":0.138},{"c":"B68","o":3,"x":0.284,"y":0.33},{"c":"B68","o":4,"x":0.2953,"y":0.385},{"c":"B68","o":5,"x":0.3057,"y":0.33},{"c":"B68","o":6,"x":0.315,"y":0.16},{"c":"B68","o":7,"x":0.325,"y":-0.05}
     ]},
     "encoding": {
      "x": {"field": "x", "type": "quantitative", "scale": {"domain": [0.038, 0.363]}, "axis": null},
      "y": {"field": "y", "type": "quantitative", "scale": {"domain": [0, 1.36]}, "axis": null},
      "order": {"field": "o"}
     },
     "layer": [
      {"transform": [{"filter": "datum.c=='A95'"}], "mark": {"type": "line", "interpolate": "cardinal-closed", "clip": true, "fill": "#d1b39f", "stroke": "#b08b74", "strokeWidth": 0.6}},
      {"transform": [{"filter": "datum.c=='A68'"}], "mark": {"type": "line", "interpolate": "cardinal-closed", "clip": true, "fill": "#8b4513", "stroke": "#8b4513", "strokeWidth": 0.4}},
      {"transform": [{"filter": "datum.c=='B95'"}], "mark": {"type": "line", "interpolate": "cardinal-closed", "clip": true, "fill": "#ffd893", "fillOpacity": 0.88, "stroke": "#f3c060", "strokeWidth": 0.6}},
      {"transform": [{"filter": "datum.c=='B68'"}], "mark": {"type": "line", "interpolate": "cardinal-closed", "clip": true, "fill": "#ffab13", "fillOpacity": 0.88, "stroke": "#f5a623", "strokeWidth": 0.4}},
      {"mark": {"type": "point", "opacity": 0, "clip": true}, "encoding": {
        "x": {"field": "x", "type": "quantitative", "scale": {"domain": [0.038, 0.363]}, "axis": {"values": [0.08, 0.16, 0.24, 0.32], "labels": false, "title": null}},
        "y": {"field": "y", "type": "quantitative", "scale": {"domain": [0, 1.36]}, "axis": {"values": [0.3, 0.6, 0.9, 1.2], "format": ".1f", "tickSize": 4, "labelPadding": 2.5, "title": "Σ mν [eV]", "titleX": -21, "titleBaseline": "middle"}}}},
      {"mark": {"type": "point", "opacity": 0, "clip": true}, "encoding": {
        "x": {"field": "x", "type": "quantitative", "scale": {"domain": [0.038, 0.363]}, "axis": {"orient": "top", "values": [0.08, 0.16, 0.24, 0.32], "labels": false, "title": null}},
        "y": {"field": "y", "type": "quantitative", "scale": {"domain": [0, 1.36]}, "axis": {"orient": "right", "values": [0.3, 0.6, 0.9, 1.2], "labels": false, "title": null}}}}
     ],
     "resolve": {"axis": {"x": "independent", "y": "independent"}}},
    {"width": 105.6, "height": 106.1,
     "data": {"values": [
      {"c":"A95","o":1,"x":109.4,"y":1.011},{"c":"A95","o":2,"x":127.9,"y":0.999},{"c":"A95","o":3,"x":141.3,"y":0.935},{"c":"A95","o":4,"x":153.1,"y":0.764},{"c":"A95","o":5,"x":158.1,"y":0.552},{"c":"A95","o":6,"x":158.1,"y":0.296},{"c":"A95","o":7,"x":152,"y":-0.087},{"c":"A95","o":8,"x":82.6,"y":-0.087},{"c":"A95","o":9,"x":79.1,"y":0.168},{"c":"A95","o":10,"x":75.8,"y":0.508},{"c":"A95","o":11,"x":77.5,"y":0.721},{"c":"A95","o":12,"x":84.2,"y":0.891},{"c":"A95","o":13,"x":94.2,"y":0.986},
      {"c":"A68","o":1,"x":119.4,"y":0.807},{"c":"A68","o":2,"x":131.2,"y":0.764},{"c":"A68","o":3,"x":139.6,"y":0.636},{"c":"A68","o":4,"x":143,"y":0.44},{"c":"A68","o":5,"x":142.6,"y":0.253},{"c":"A68","o":6,"x":132.9,"y":0.083},{"c":"A68","o":7,"x":119.4,"y":-0.02},{"c":"A68","o":8,"x":104.3,"y":0.083},{"c":"A68","o":9,"x":96,"y":0.296},{"c":"A68","o":10,"x":93.2,"y":0.508},{"c":"A68","o":11,"x":97.7,"y":0.679},{"c":"A68","o":12,"x":106,"y":0.785},
      {"c":"B95","o":1,"x":65.7,"y":-0.05},{"c":"B95","o":2,"x":65.4,"y":0.265},{"c":"B95","o":3,"x":67.4,"y":0.5},{"c":"B95","o":4,"x":70.5,"y":0.559},{"c":"B95","o":5,"x":73.5,"y":0.5},{"c":"B95","o":6,"x":75.1,"y":0.265},{"c":"B95","o":7,"x":75.1,"y":-0.05},
      {"c":"B68","o":1,"x":68.5,"y":-0.05},{"c":"B68","o":2,"x":68.5,"y":0.223},{"c":"B68","o":3,"x":69.5,"y":0.373},{"c":"B68","o":4,"x":70.8,"y":0.393},{"c":"B68","o":5,"x":71.8,"y":0.309},{"c":"B68","o":6,"x":72.5,"y":-0.05}
     ]},
     "encoding": {
      "x": {"field": "x", "type": "quantitative", "scale": {"domain": [61, 167.5]}, "axis": null},
      "y": {"field": "y", "type": "quantitative", "scale": {"domain": [0, 1.36]}, "axis": null},
      "order": {"field": "o"}
     },
     "layer": [
      {"transform": [{"filter": "datum.c=='A95'"}], "mark": {"type": "line", "interpolate": "cardinal-closed", "clip": true, "fill": "#d1b39f", "stroke": "#b08b74", "strokeWidth": 0.6}},
      {"transform": [{"filter": "datum.c=='A68'"}], "mark": {"type": "line", "interpolate": "cardinal-closed", "clip": true, "fill": "#8b4513", "stroke": "#8b4513", "strokeWidth": 0.4}},
      {"transform": [{"filter": "datum.c=='B95'"}], "mark": {"type": "line", "interpolate": "cardinal-closed", "clip": true, "fill": "#ffd893", "fillOpacity": 0.88, "stroke": "#f3c060", "strokeWidth": 0.6}},
      {"transform": [{"filter": "datum.c=='B68'"}], "mark": {"type": "line", "interpolate": "cardinal-closed", "clip": true, "fill": "#ffab13", "fillOpacity": 0.88, "stroke": "#f5a623", "strokeWidth": 0.4}},
      {"mark": {"type": "point", "opacity": 0, "clip": true}, "encoding": {
        "x": {"field": "x", "type": "quantitative", "scale": {"domain": [61, 167.5]}, "axis": {"values": [75, 125], "labels": false, "title": null}},
        "y": {"field": "y", "type": "quantitative", "scale": {"domain": [0, 1.36]}, "axis": {"values": [0.3, 0.6, 0.9, 1.2], "labels": false, "title": null}}}},
      {"mark": {"type": "point", "opacity": 0, "clip": true}, "encoding": {
        "x": {"field": "x", "type": "quantitative", "scale": {"domain": [61, 167.5]}, "axis": {"orient": "top", "values": [75, 125], "labels": false, "title": null}},
        "y": {"field": "y", "type": "quantitative", "scale": {"domain": [0, 1.36]}, "axis": {"orient": "right", "values": [0.3, 0.6, 0.9, 1.2], "labels": false, "title": null}}}}
     ],
     "resolve": {"axis": {"x": "independent", "y": "independent"}}},
    {"width": 105.6, "height": 106.1,
     "data": {"values": [
      {"c":"A95","o":1,"x":-3.082,"y":1.028},{"c":"A95","o":2,"x":-2.606,"y":0.999},{"c":"A95","o":3,"x":-2.131,"y":0.891},{"c":"A95","o":4,"x":-1.846,"y":0.721},{"c":"A95","o":5,"x":-1.61,"y":0.466},{"c":"A95","o":6,"x":-1.515,"y":0.253},{"c":"A95","o":7,"x":-1.48,"y":-0.06},{"c":"A95","o":8,"x":-4.0,"y":-0.06},{"c":"A95","o":9,"x":-4.0,"y":0.6},{"c":"A95","o":10,"x":-3.746,"y":0.935},{"c":"A95","o":11,"x":-3.45,"y":1.0},
      {"c":"A68","o":1,"x":-3.27,"y":0.871},{"c":"A68","o":2,"x":-2.797,"y":0.827},{"c":"A68","o":3,"x":-2.416,"y":0.721},{"c":"A68","o":4,"x":-2.037,"y":0.466},{"c":"A68","o":5,"x":-1.846,"y":0.168},{"c":"A68","o":6,"x":-1.8,"y":-0.02},{"c":"A68","o":7,"x":-2.797,"y":-0.02},{"c":"A68","o":8,"x":-3.082,"y":0.083},{"c":"A68","o":9,"x":-3.461,"y":0.253},{"c":"A68","o":10,"x":-3.794,"y":0.508},{"c":"A68","o":11,"x":-3.746,"y":0.679},{"c":"A68","o":12,"x":-3.604,"y":0.807},
      {"c":"B95","o":1,"x":-1.418,"y":-0.05},{"c":"B95","o":2,"x":-1.381,"y":0.351},{"c":"B95","o":3,"x":-1.333,"y":0.564},{"c":"B95","o":4,"x":-1.259,"y":0.628},{"c":"B95","o":5,"x":-1.162,"y":0.564},{"c":"B95","o":6,"x":-1.02,"y":0.309},{"c":"B95","o":7,"x":-0.926,"y":0.053},{"c":"B95","o":8,"x":-0.897,"y":-0.05},
      {"c":"B68","o":1,"x":-1.259,"y":-0.05},{"c":"B68","o":2,"x":-1.239,"y":0.223},{"c":"B68","o":3,"x":-1.21,"y":0.373},{"c":"B68","o":4,"x":-1.145,"y":0.33},{"c":"B68","o":5,"x":-1.068,"y":0.138},{"c":"B68","o":6,"x":-1.012,"y":-0.05}
     ]},
     "encoding": {
      "x": {"field": "x", "type": "quantitative", "scale": {"domain": [-3.86, -0.855]}, "axis": null},
      "y": {"field": "y", "type": "quantitative", "scale": {"domain": [0, 1.36]}, "axis": null},
      "order": {"field": "o"}
     },
     "layer": [
      {"transform": [{"filter": "datum.c=='A95'"}], "mark": {"type": "line", "interpolate": "cardinal-closed", "clip": true, "fill": "#d1b39f", "stroke": "#b08b74", "strokeWidth": 0.6}},
      {"transform": [{"filter": "datum.c=='A68'"}], "mark": {"type": "line", "interpolate": "cardinal-closed", "clip": true, "fill": "#8b4513", "stroke": "#8b4513", "strokeWidth": 0.4}},
      {"transform": [{"filter": "datum.c=='B95'"}], "mark": {"type": "line", "interpolate": "cardinal-closed", "clip": true, "fill": "#ffd893", "fillOpacity": 0.88, "stroke": "#f3c060", "strokeWidth": 0.6}},
      {"transform": [{"filter": "datum.c=='B68'"}], "mark": {"type": "line", "interpolate": "cardinal-closed", "clip": true, "fill": "#ffab13", "fillOpacity": 0.88, "stroke": "#f5a623", "strokeWidth": 0.4}},
      {"mark": {"type": "point", "opacity": 0, "clip": true}, "encoding": {
        "x": {"field": "x", "type": "quantitative", "scale": {"domain": [-3.86, -0.855]}, "axis": {"values": [-3.2, -2.4, -1.6], "labels": false, "title": null}},
        "y": {"field": "y", "type": "quantitative", "scale": {"domain": [0, 1.36]}, "axis": {"values": [0.3, 0.6, 0.9, 1.2], "labels": false, "title": null}}}},
      {"mark": {"type": "point", "opacity": 0, "clip": true}, "encoding": {
        "x": {"field": "x", "type": "quantitative", "scale": {"domain": [-3.86, -0.855]}, "axis": {"orient": "top", "values": [-3.2, -2.4, -1.6], "labels": false, "title": null}},
        "y": {"field": "y", "type": "quantitative", "scale": {"domain": [0, 1.36]}, "axis": {"orient": "right", "values": [0.3, 0.6, 0.9, 1.2], "labels": false, "title": null}}}}
     ],
     "resolve": {"axis": {"x": "independent", "y": "independent"}}},
    {"width": 105.6, "height": 106.1,
     "data": {"values": [
      {"c":"A95","o":1,"x":1.156,"y":1.041},{"c":"A95","o":2,"x":1.39,"y":1.024},{"c":"A95","o":3,"x":1.624,"y":0.904},{"c":"A95","o":4,"x":1.744,"y":0.692},{"c":"A95","o":5,"x":1.724,"y":0.479},{"c":"A95","o":6,"x":1.556,"y":0.265},{"c":"A95","o":7,"x":1.29,"y":0.096},{"c":"A95","o":8,"x":1.024,"y":-0.05},{"c":"A95","o":9,"x":0.256,"y":-0.05},{"c":"A95","o":10,"x":0.324,"y":0.181},{"c":"A95","o":11,"x":0.456,"y":0.479},{"c":"A95","o":12,"x":0.644,"y":0.756},{"c":"A95","o":13,"x":0.89,"y":0.968},
      {"c":"A68","o":1,"x":1.224,"y":0.802},{"c":"A68","o":2,"x":1.424,"y":0.756},{"c":"A68","o":3,"x":1.51,"y":0.606},{"c":"A68","o":4,"x":1.476,"y":0.393},{"c":"A68","o":5,"x":1.29,"y":0.202},{"c":"A68","o":6,"x":1.024,"y":0.032},{"c":"A68","o":7,"x":0.924,"y":-0.05},{"c":"A68","o":8,"x":0.624,"y":-0.05},{"c":"A68","o":9,"x":0.724,"y":0.393},{"c":"A68","o":10,"x":0.856,"y":0.649},{"c":"A68","o":11,"x":1.024,"y":0.769},
      {"c":"B95","o":1,"x":0.156,"y":-0.05},{"c":"B95","o":2,"x":0.204,"y":0.096},{"c":"B95","o":3,"x":0.29,"y":0.33},{"c":"B95","o":4,"x":0.444,"y":0.521},{"c":"B95","o":5,"x":0.624,"y":0.59},{"c":"B95","o":6,"x":0.856,"y":0.564},{"c":"B95","o":7,"x":0.976,"y":0.457},{"c":"B95","o":8,"x":1.024,"y":0.223},{"c":"B95","o":9,"x":1.024,"y":-0.05},
      {"c":"B68","o":1,"x":0.31,"y":-0.05},{"c":"B68","o":2,"x":0.39,"y":0.138},{"c":"B68","o":3,"x":0.51,"y":0.309},{"c":"B68","o":4,"x":0.656,"y":0.381},{"c":"B68","o":5,"x":0.776,"y":0.33},{"c":"B68","o":6,"x":0.83,"y":0.181},{"c":"B68","o":7,"x":0.856,"y":-0.05}
     ]},
     "encoding": {
      "x": {"field": "x", "type": "quantitative", "scale": {"domain": [0.136, 2.256]}, "axis": null},
      "y": {"field": "y", "type": "quantitative", "scale": {"domain": [0, 1.36]}, "axis": null},
      "order": {"field": "o"}
     },
     "layer": [
      {"transform": [{"filter": "datum.c=='A95'"}], "mark": {"type": "line", "interpolate": "cardinal-closed", "clip": true, "fill": "#d1b39f", "stroke": "#b08b74", "strokeWidth": 0.6}},
      {"transform": [{"filter": "datum.c=='A68'"}], "mark": {"type": "line", "interpolate": "cardinal-closed", "clip": true, "fill": "#8b4513", "stroke": "#8b4513", "strokeWidth": 0.4}},
      {"transform": [{"filter": "datum.c=='B95'"}], "mark": {"type": "line", "interpolate": "cardinal-closed", "clip": true, "fill": "#ffd893", "fillOpacity": 0.88, "stroke": "#f3c060", "strokeWidth": 0.6}},
      {"transform": [{"filter": "datum.c=='B68'"}], "mark": {"type": "line", "interpolate": "cardinal-closed", "clip": true, "fill": "#ffab13", "fillOpacity": 0.88, "stroke": "#f5a623", "strokeWidth": 0.4}},
      {"mark": {"type": "point", "opacity": 0, "clip": true}, "encoding": {
        "x": {"field": "x", "type": "quantitative", "scale": {"domain": [0.136, 2.256]}, "axis": {"values": [0.5, 1, 1.5, 2], "labels": false, "title": null}},
        "y": {"field": "y", "type": "quantitative", "scale": {"domain": [0, 1.36]}, "axis": {"values": [0.3, 0.6, 0.9, 1.2], "labels": false, "title": null}}}},
      {"mark": {"type": "point", "opacity": 0, "clip": true}, "encoding": {
        "x": {"field": "x", "type": "quantitative", "scale": {"domain": [0.136, 2.256]}, "axis": {"orient": "top", "values": [0.5, 1, 1.5, 2], "labels": false, "title": null}},
        "y": {"field": "y", "type": "quantitative", "scale": {"domain": [0, 1.36]}, "axis": {"orient": "right", "values": [0.3, 0.6, 0.9, 1.2], "labels": false, "title": null}}}}
     ],
     "resolve": {"axis": {"x": "independent", "y": "independent"}}},
    {"width": 105.6, "height": 106.1,
     "data": {"values": [
      {"s":"A","x":0.0,"d":0.39},{"s":"A","x":0.107,"d":0.564},{"s":"A","x":0.213,"d":0.737},{"s":"A","x":0.319,"d":0.893},{"s":"A","x":0.447,"d":1.0},{"s":"A","x":0.554,"d":0.96},{"s":"A","x":0.66,"d":0.77},{"s":"A","x":0.766,"d":0.495},{"s":"A","x":0.874,"d":0.287},{"s":"A","x":0.98,"d":0.13},{"s":"A","x":1.086,"d":0.045},{"s":"A","x":1.193,"d":0.007},{"s":"A","x":1.3,"d":0.0},
      {"s":"B","x":0.0,"d":0.97},{"s":"B","x":0.086,"d":0.806},{"s":"B","x":0.171,"d":0.6},{"s":"B","x":0.256,"d":0.41},{"s":"B","x":0.362,"d":0.253},{"s":"B","x":0.469,"d":0.142},{"s":"B","x":0.575,"d":0.073},{"s":"B","x":0.682,"d":0.024},{"s":"B","x":0.724,"d":0.007},{"s":"B","x":0.8,"d":0.0}
     ]},
     "encoding": {
      "x": {"field": "x", "type": "quantitative", "scale": {"domain": [0, 1.36]}, "axis": {"values": [0.3, 0.6, 0.9, 1.2], "labels": false, "title": null}},
      "y": {"field": "d", "type": "quantitative", "scale": {"domain": [0, 1.1]}, "axis": null}
     },
     "layer": [
      {"transform": [{"filter": "datum.s=='A'"}], "mark": {"type": "line", "interpolate": "monotone", "clip": true, "stroke": "#8b4513", "strokeWidth": 1}},
      {"transform": [{"filter": "datum.s=='B'"}], "mark": {"type": "line", "interpolate": "monotone", "clip": true, "stroke": "#ffa500", "strokeWidth": 1}}
     ]},
    {"width": 105.6, "height": 106.1, "view": {"stroke": null}, "data": {"values": [{"x": 0}]}, "mark": {"type": "point", "opacity": 0}},

    {"width": 105.6, "height": 106.1,
     "data": {"values": [
      {"c":"A95","o":1,"x":0.082,"y":1.973},{"c":"A95","o":2,"x":0.123,"y":1.879},{"c":"A95","o":3,"x":0.159,"y":1.576},{"c":"A95","o":4,"x":0.2,"y":1.184},{"c":"A95","o":5,"x":0.2235,"y":0.881},{"c":"A95","o":6,"x":0.218,"y":0.659},{"c":"A95","o":7,"x":0.19,"y":0.458},{"c":"A95","o":8,"x":0.1436,"y":0.364},{"c":"A95","o":9,"x":0.1076,"y":0.388},{"c":"A95","o":10,"x":0.0666,"y":0.578},{"c":"A95","o":11,"x":0.0306,"y":0.881},{"c":"A95","o":12,"x":0.0257,"y":1.511},{"c":"A95","o":13,"x":0.046,"y":1.828},{"c":"A95","o":14,"x":0.0666,"y":1.955},
      {"c":"A68","o":1,"x":0.092,"y":1.563},{"c":"A68","o":2,"x":0.1097,"y":1.525},{"c":"A68","o":3,"x":0.1404,"y":1.246},{"c":"A68","o":4,"x":0.162,"y":0.943},{"c":"A68","o":5,"x":0.164,"y":0.723},{"c":"A68","o":6,"x":0.1466,"y":0.597},{"c":"A68","o":7,"x":0.123,"y":0.616},{"c":"A68","o":8,"x":0.0974,"y":0.818},{"c":"A68","o":9,"x":0.0697,"y":1.133},{"c":"A68","o":10,"x":0.0626,"y":1.354},{"c":"A68","o":11,"x":0.0718,"y":1.511},
      {"c":"B95","o":1,"x":0.3303,"y":0.629},{"c":"B95","o":2,"x":0.3198,"y":0.83},{"c":"B95","o":3,"x":0.2943,"y":0.913},{"c":"B95","o":4,"x":0.2688,"y":0.83},{"c":"B95","o":5,"x":0.2583,"y":0.629},{"c":"B95","o":6,"x":0.2688,"y":0.428},{"c":"B95","o":7,"x":0.2943,"y":0.345},{"c":"B95","o":8,"x":0.3198,"y":0.428},
      {"c":"B68","o":1,"x":0.3179,"y":0.629},{"c":"B68","o":2,"x":0.3119,"y":0.727},{"c":"B68","o":3,"x":0.2974,"y":0.768},{"c":"B68","o":4,"x":0.2829,"y":0.727},{"c":"B68","o":5,"x":0.2769,"y":0.629},{"c":"B68","o":6,"x":0.2829,"y":0.531},{"c":"B68","o":7,"x":0.2974,"y":0.49},{"c":"B68","o":8,"x":0.3119,"y":0.531}
     ]},
     "encoding": {
      "x": {"field": "x", "type": "quantitative", "scale": {"domain": [0.038, 0.363]}, "axis": null},
      "y": {"field": "y", "type": "quantitative", "scale": {"domain": [0.25, 2.25]}, "axis": null},
      "order": {"field": "o"}
     },
     "layer": [
      {"transform": [{"filter": "datum.c=='A95'"}], "mark": {"type": "line", "interpolate": "cardinal-closed", "clip": true, "fill": "#d1b39f", "stroke": "#b08b74", "strokeWidth": 0.6}},
      {"transform": [{"filter": "datum.c=='A68'"}], "mark": {"type": "line", "interpolate": "cardinal-closed", "clip": true, "fill": "#8b4513", "stroke": "#8b4513", "strokeWidth": 0.4}},
      {"transform": [{"filter": "datum.c=='B95'"}], "mark": {"type": "line", "interpolate": "cardinal-closed", "clip": true, "fill": "#ffd893", "fillOpacity": 0.88, "stroke": "#f3c060", "strokeWidth": 0.6}},
      {"transform": [{"filter": "datum.c=='B68'"}], "mark": {"type": "line", "interpolate": "cardinal-closed", "clip": true, "fill": "#ffab13", "fillOpacity": 0.88, "stroke": "#f5a623", "strokeWidth": 0.4}},
      {"mark": {"type": "point", "opacity": 0, "clip": true}, "encoding": {
        "x": {"field": "x", "type": "quantitative", "scale": {"domain": [0.038, 0.363]}, "axis": {"values": [0.08, 0.16, 0.24, 0.32], "format": ".2f", "title": "Ωₘ", "titleY": 21, "titleBaseline": "middle"}},
        "y": {"field": "y", "type": "quantitative", "scale": {"domain": [0.25, 2.25]}, "axis": {"values": [0.5, 1, 1.5, 2], "format": ".1f", "tickSize": 4, "labelPadding": 2.5, "title": "(1−b)", "titleX": -21, "titleBaseline": "middle"}}}},
      {"mark": {"type": "point", "opacity": 0, "clip": true}, "encoding": {
        "x": {"field": "x", "type": "quantitative", "scale": {"domain": [0.038, 0.363]}, "axis": {"orient": "top", "values": [0.08, 0.16, 0.24, 0.32], "labels": false, "title": null}},
        "y": {"field": "y", "type": "quantitative", "scale": {"domain": [0.25, 2.25]}, "axis": {"orient": "right", "values": [0.5, 1, 1.5, 2], "labels": false, "title": null}}}}
     ],
     "resolve": {"axis": {"x": "independent", "y": "independent"}}},
    {"width": 105.6, "height": 106.1,
     "data": {"values": [
      {"c":"A95","o":1,"x":145.3,"y":1.941},{"c":"A95","o":2,"x":160.4,"y":1.879},{"c":"A95","o":3,"x":165.5,"y":1.576},{"c":"A95","o":4,"x":162.8,"y":1.197},{"c":"A95","o":5,"x":150.4,"y":0.894},{"c":"A95","o":6,"x":128.5,"y":0.629},{"c":"A95","o":7,"x":105,"y":0.407},{"c":"A95","o":8,"x":83.2,"y":0.3},{"c":"A95","o":9,"x":70.8,"y":0.326},{"c":"A95","o":10,"x":66.4,"y":0.534},{"c":"A95","o":11,"x":71.5,"y":0.881},{"c":"A95","o":12,"x":84.9,"y":1.26},{"c":"A95","o":13,"x":103.3,"y":1.576},{"c":"A95","o":14,"x":123.5,"y":1.828},
      {"c":"A68","o":1,"x":130.2,"y":1.544},{"c":"A68","o":2,"x":144.6,"y":1.462},{"c":"A68","o":3,"x":147,"y":1.197},{"c":"A68","o":4,"x":139.3,"y":0.913},{"c":"A68","o":5,"x":121.9,"y":0.723},{"c":"A68","o":6,"x":101.7,"y":0.616},{"c":"A68","o":7,"x":89.9,"y":0.659},{"c":"A68","o":8,"x":87.2,"y":0.848},{"c":"A68","o":9,"x":95,"y":1.133},{"c":"A68","o":10,"x":111.8,"y":1.386},
      {"c":"B95","o":1,"x":74.8,"y":0.629},{"c":"B95","o":2,"x":73.4,"y":0.83},{"c":"B95","o":3,"x":70.1,"y":0.913},{"c":"B95","o":4,"x":66.8,"y":0.83},{"c":"B95","o":5,"x":65.4,"y":0.629},{"c":"B95","o":6,"x":66.8,"y":0.428},{"c":"B95","o":7,"x":70.1,"y":0.345},{"c":"B95","o":8,"x":73.4,"y":0.428},
      {"c":"B68","o":1,"x":72.8,"y":0.629},{"c":"B68","o":2,"x":72,"y":0.763},{"c":"B68","o":3,"x":70.1,"y":0.819},{"c":"B68","o":4,"x":68.2,"y":0.763},{"c":"B68","o":5,"x":67.4,"y":0.629},{"c":"B68","o":6,"x":68.2,"y":0.495},{"c":"B68","o":7,"x":70.1,"y":0.439},{"c":"B68","o":8,"x":72,"y":0.495}
     ]},
     "encoding": {
      "x": {"field": "x", "type": "quantitative", "scale": {"domain": [61, 167.5]}, "axis": null},
      "y": {"field": "y", "type": "quantitative", "scale": {"domain": [0.25, 2.25]}, "axis": null},
      "order": {"field": "o"}
     },
     "layer": [
      {"transform": [{"filter": "datum.c=='A95'"}], "mark": {"type": "line", "interpolate": "cardinal-closed", "clip": true, "fill": "#d1b39f", "stroke": "#b08b74", "strokeWidth": 0.6}},
      {"transform": [{"filter": "datum.c=='A68'"}], "mark": {"type": "line", "interpolate": "cardinal-closed", "clip": true, "fill": "#8b4513", "stroke": "#8b4513", "strokeWidth": 0.4}},
      {"transform": [{"filter": "datum.c=='B95'"}], "mark": {"type": "line", "interpolate": "cardinal-closed", "clip": true, "fill": "#ffd893", "fillOpacity": 0.88, "stroke": "#f3c060", "strokeWidth": 0.6}},
      {"transform": [{"filter": "datum.c=='B68'"}], "mark": {"type": "line", "interpolate": "cardinal-closed", "clip": true, "fill": "#ffab13", "fillOpacity": 0.88, "stroke": "#f5a623", "strokeWidth": 0.4}},
      {"mark": {"type": "point", "opacity": 0, "clip": true}, "encoding": {
        "x": {"field": "x", "type": "quantitative", "scale": {"domain": [61, 167.5]}, "axis": {"values": [75, 125], "format": "d", "title": "H₀", "titleY": 21, "titleBaseline": "middle"}},
        "y": {"field": "y", "type": "quantitative", "scale": {"domain": [0.25, 2.25]}, "axis": {"values": [0.5, 1, 1.5, 2], "labels": false, "title": null}}}},
      {"mark": {"type": "point", "opacity": 0, "clip": true}, "encoding": {
        "x": {"field": "x", "type": "quantitative", "scale": {"domain": [61, 167.5]}, "axis": {"orient": "top", "values": [75, 125], "labels": false, "title": null}},
        "y": {"field": "y", "type": "quantitative", "scale": {"domain": [0.25, 2.25]}, "axis": {"orient": "right", "values": [0.5, 1, 1.5, 2], "labels": false, "title": null}}}}
     ],
     "resolve": {"axis": {"x": "independent", "y": "independent"}}},
    {"width": 105.6, "height": 106.1,
     "data": {"values": [
      {"c":"A95","o":1,"x":-3.441,"y":1.955},{"c":"A95","o":2,"x":-2.968,"y":1.828},{"c":"A95","o":3,"x":-2.302,"y":1.449},{"c":"A95","o":4,"x":-1.686,"y":1.007},{"c":"A95","o":5,"x":-1.43,"y":0.691},{"c":"A95","o":6,"x":-1.447,"y":0.439},{"c":"A95","o":7,"x":-1.732,"y":0.326},{"c":"A95","o":8,"x":-2.302,"y":0.345},{"c":"A95","o":9,"x":-2.968,"y":0.564},{"c":"A95","o":10,"x":-3.538,"y":0.881},{"c":"A95","o":11,"x":-3.965,"y":1.197},{"c":"A95","o":12,"x":-3.965,"y":1.701},{"c":"A95","o":13,"x":-3.869,"y":1.879},
      {"c":"A68","o":1,"x":-3.327,"y":1.538},{"c":"A68","o":2,"x":-3.014,"y":1.538},{"c":"A68","o":3,"x":-2.587,"y":1.335},{"c":"A68","o":4,"x":-2.113,"y":1.007},{"c":"A68","o":5,"x":-1.903,"y":0.754},{"c":"A68","o":6,"x":-1.971,"y":0.597},{"c":"A68","o":7,"x":-2.302,"y":0.61},{"c":"A68","o":8,"x":-2.826,"y":0.805},{"c":"A68","o":9,"x":-3.299,"y":1.057},{"c":"A68","o":10,"x":-3.481,"y":1.322},
      {"c":"B95","o":1,"x":-0.934,"y":0.629},{"c":"B95","o":2,"x":-1.0,"y":0.843},{"c":"B95","o":3,"x":-1.162,"y":0.932},{"c":"B95","o":4,"x":-1.323,"y":0.843},{"c":"B95","o":5,"x":-1.39,"y":0.629},{"c":"B95","o":6,"x":-1.323,"y":0.415},{"c":"B95","o":7,"x":-1.162,"y":0.326},{"c":"B95","o":8,"x":-1.0,"y":0.415},
      {"c":"B68","o":1,"x":-1.0,"y":0.616},{"c":"B68","o":2,"x":-1.039,"y":0.75},{"c":"B68","o":3,"x":-1.133,"y":0.806},{"c":"B68","o":4,"x":-1.227,"y":0.75},{"c":"B68","o":5,"x":-1.266,"y":0.616},{"c":"B68","o":6,"x":-1.227,"y":0.482},{"c":"B68","o":7,"x":-1.133,"y":0.426},{"c":"B68","o":8,"x":-1.039,"y":0.482}
     ]},
     "encoding": {
      "x": {"field": "x", "type": "quantitative", "scale": {"domain": [-3.86, -0.855]}, "axis": null},
      "y": {"field": "y", "type": "quantitative", "scale": {"domain": [0.25, 2.25]}, "axis": null},
      "order": {"field": "o"}
     },
     "layer": [
      {"transform": [{"filter": "datum.c=='A95'"}], "mark": {"type": "line", "interpolate": "cardinal-closed", "clip": true, "fill": "#d1b39f", "stroke": "#b08b74", "strokeWidth": 0.6}},
      {"transform": [{"filter": "datum.c=='A68'"}], "mark": {"type": "line", "interpolate": "cardinal-closed", "clip": true, "fill": "#8b4513", "stroke": "#8b4513", "strokeWidth": 0.4}},
      {"transform": [{"filter": "datum.c=='B95'"}], "mark": {"type": "line", "interpolate": "cardinal-closed", "clip": true, "fill": "#ffd893", "fillOpacity": 0.88, "stroke": "#f3c060", "strokeWidth": 0.6}},
      {"transform": [{"filter": "datum.c=='B68'"}], "mark": {"type": "line", "interpolate": "cardinal-closed", "clip": true, "fill": "#ffab13", "fillOpacity": 0.88, "stroke": "#f5a623", "strokeWidth": 0.4}},
      {"mark": {"type": "point", "opacity": 0, "clip": true}, "encoding": {
        "x": {"field": "x", "type": "quantitative", "scale": {"domain": [-3.86, -0.855]}, "axis": {"values": [-3.2, -2.4, -1.6], "format": ".1f", "title": "w", "titleY": 21, "titleBaseline": "middle"}},
        "y": {"field": "y", "type": "quantitative", "scale": {"domain": [0.25, 2.25]}, "axis": {"values": [0.5, 1, 1.5, 2], "labels": false, "title": null}}}},
      {"mark": {"type": "point", "opacity": 0, "clip": true}, "encoding": {
        "x": {"field": "x", "type": "quantitative", "scale": {"domain": [-3.86, -0.855]}, "axis": {"orient": "top", "values": [-3.2, -2.4, -1.6], "labels": false, "title": null}},
        "y": {"field": "y", "type": "quantitative", "scale": {"domain": [0.25, 2.25]}, "axis": {"orient": "right", "values": [0.5, 1, 1.5, 2], "labels": false, "title": null}}}}
     ],
     "resolve": {"axis": {"x": "independent", "y": "independent"}}},
    {"width": 105.6, "height": 106.1,
     "data": {"values": [
      {"c":"A95","o":1,"x":1.59,"y":1.922},{"c":"A95","o":2,"x":1.71,"y":1.86},{"c":"A95","o":3,"x":1.724,"y":1.511},{"c":"A95","o":4,"x":1.604,"y":1.133},{"c":"A95","o":5,"x":1.356,"y":0.818},{"c":"A95","o":6,"x":1.056,"y":0.534},{"c":"A95","o":7,"x":0.724,"y":0.364},{"c":"A95","o":8,"x":0.424,"y":0.326},{"c":"A95","o":9,"x":0.244,"y":0.375},{"c":"A95","o":10,"x":0.31,"y":0.534},{"c":"A95","o":11,"x":0.524,"y":0.818},{"c":"A95","o":12,"x":0.856,"y":1.197},{"c":"A95","o":13,"x":1.19,"y":1.576},{"c":"A95","o":14,"x":1.456,"y":1.86},
      {"c":"A68","o":1,"x":1.324,"y":1.511},{"c":"A68","o":2,"x":1.416,"y":1.436},{"c":"A68","o":3,"x":1.39,"y":1.133},{"c":"A68","o":4,"x":1.204,"y":0.881},{"c":"A68","o":5,"x":0.924,"y":0.659},{"c":"A68","o":6,"x":0.624,"y":0.534},{"c":"A68","o":7,"x":0.456,"y":0.54},{"c":"A68","o":8,"x":0.536,"y":0.705},{"c":"A68","o":9,"x":0.79,"y":0.956},{"c":"A68","o":10,"x":1.09,"y":1.26},
      {"c":"B95","o":1,"x":0.976,"y":0.9},{"c":"B95","o":2,"x":1.036,"y":0.799},{"c":"B95","o":3,"x":0.936,"y":0.629},{"c":"B95","o":4,"x":0.656,"y":0.47},{"c":"B95","o":5,"x":0.39,"y":0.375},{"c":"B95","o":6,"x":0.23,"y":0.388},{"c":"B95","o":7,"x":0.256,"y":0.502},{"c":"B95","o":8,"x":0.424,"y":0.659},{"c":"B95","o":9,"x":0.724,"y":0.83},
      {"c":"B68","o":1,"x":0.844,"y":0.792},{"c":"B68","o":2,"x":0.876,"y":0.716},{"c":"B68","o":3,"x":0.724,"y":0.616},{"c":"B68","o":4,"x":0.49,"y":0.515},{"c":"B68","o":5,"x":0.344,"y":0.534},{"c":"B68","o":6,"x":0.404,"y":0.629},{"c":"B68","o":7,"x":0.604,"y":0.729}
     ]},
     "encoding": {
      "x": {"field": "x", "type": "quantitative", "scale": {"domain": [0.136, 2.256]}, "axis": null},
      "y": {"field": "y", "type": "quantitative", "scale": {"domain": [0.25, 2.25]}, "axis": null},
      "order": {"field": "o"}
     },
     "layer": [
      {"transform": [{"filter": "datum.c=='A95'"}], "mark": {"type": "line", "interpolate": "cardinal-closed", "clip": true, "fill": "#d1b39f", "stroke": "#b08b74", "strokeWidth": 0.6}},
      {"transform": [{"filter": "datum.c=='A68'"}], "mark": {"type": "line", "interpolate": "cardinal-closed", "clip": true, "fill": "#8b4513", "stroke": "#8b4513", "strokeWidth": 0.4}},
      {"transform": [{"filter": "datum.c=='B95'"}], "mark": {"type": "line", "interpolate": "cardinal-closed", "clip": true, "fill": "#ffd893", "fillOpacity": 0.88, "stroke": "#f3c060", "strokeWidth": 0.6}},
      {"transform": [{"filter": "datum.c=='B68'"}], "mark": {"type": "line", "interpolate": "cardinal-closed", "clip": true, "fill": "#ffab13", "fillOpacity": 0.88, "stroke": "#f5a623", "strokeWidth": 0.4}},
      {"mark": {"type": "point", "opacity": 0, "clip": true}, "encoding": {
        "x": {"field": "x", "type": "quantitative", "scale": {"domain": [0.136, 2.256]}, "axis": {"values": [0.5, 1, 1.5, 2], "format": ".1f", "title": "γ", "titleY": 21, "titleBaseline": "middle"}},
        "y": {"field": "y", "type": "quantitative", "scale": {"domain": [0.25, 2.25]}, "axis": {"values": [0.5, 1, 1.5, 2], "labels": false, "title": null}}}},
      {"mark": {"type": "point", "opacity": 0, "clip": true}, "encoding": {
        "x": {"field": "x", "type": "quantitative", "scale": {"domain": [0.136, 2.256]}, "axis": {"orient": "top", "values": [0.5, 1, 1.5, 2], "labels": false, "title": null}},
        "y": {"field": "y", "type": "quantitative", "scale": {"domain": [0.25, 2.25]}, "axis": {"orient": "right", "values": [0.5, 1, 1.5, 2], "labels": false, "title": null}}}}
     ],
     "resolve": {"axis": {"x": "independent", "y": "independent"}}},
    {"width": 105.6, "height": 106.1,
     "data": {"values": [
      {"c":"A95","o":1,"x":0.809,"y":1.89},{"c":"A95","o":2,"x":0.98,"y":1.879},{"c":"A95","o":3,"x":1.047,"y":1.576},{"c":"A95","o":4,"x":1.022,"y":1.227},{"c":"A95","o":5,"x":0.903,"y":0.932},{"c":"A95","o":6,"x":0.682,"y":0.691},{"c":"A95","o":7,"x":0.383,"y":0.47},{"c":"A95","o":8,"x":0.128,"y":0.3},{"c":"A95","o":9,"x":-0.084,"y":0.218},{"c":"A95","o":10,"x":-0.084,"y":1.007},{"c":"A95","o":11,"x":0.213,"y":1.273},{"c":"A95","o":12,"x":0.469,"y":1.625},{"c":"A95","o":13,"x":0.66,"y":1.841},
      {"c":"A68","o":1,"x":0.639,"y":1.481},{"c":"A68","o":2,"x":0.766,"y":1.417},{"c":"A68","o":3,"x":0.779,"y":1.133},{"c":"A68","o":4,"x":0.648,"y":0.906},{"c":"A68","o":5,"x":0.383,"y":0.735},{"c":"A68","o":6,"x":0.128,"y":0.64},{"c":"A68","o":7,"x":-0.084,"y":0.597},{"c":"A68","o":8,"x":-0.084,"y":0.894},{"c":"A68","o":9,"x":0.128,"y":0.956},{"c":"A68","o":10,"x":0.383,"y":1.246},
      {"c":"B95","o":1,"x":-0.084,"y":0.932},{"c":"B95","o":2,"x":0.213,"y":0.913},{"c":"B95","o":3,"x":0.511,"y":0.894},{"c":"B95","o":4,"x":0.605,"y":0.805},{"c":"B95","o":5,"x":0.605,"y":0.659},{"c":"B95","o":6,"x":0.469,"y":0.502},{"c":"B95","o":7,"x":0.213,"y":0.345},{"c":"B95","o":8,"x":0.0,"y":0.261},{"c":"B95","o":9,"x":-0.084,"y":0.2},
      {"c":"B68","o":1,"x":-0.084,"y":0.767},{"c":"B68","o":2,"x":0.213,"y":0.767},{"c":"B68","o":3,"x":0.362,"y":0.723},{"c":"B68","o":4,"x":0.383,"y":0.659},{"c":"B68","o":5,"x":0.256,"y":0.534},{"c":"B68","o":6,"x":0.086,"y":0.439},{"c":"B68","o":7,"x":-0.084,"y":0.375}
     ]},
     "encoding": {
      "x": {"field": "x", "type": "quantitative", "scale": {"domain": [0, 1.36]}, "axis": null},
      "y": {"field": "y", "type": "quantitative", "scale": {"domain": [0.25, 2.25]}, "axis": null},
      "order": {"field": "o"}
     },
     "layer": [
      {"transform": [{"filter": "datum.c=='A95'"}], "mark": {"type": "line", "interpolate": "cardinal-closed", "clip": true, "fill": "#d1b39f", "stroke": "#b08b74", "strokeWidth": 0.6}},
      {"transform": [{"filter": "datum.c=='A68'"}], "mark": {"type": "line", "interpolate": "cardinal-closed", "clip": true, "fill": "#8b4513", "stroke": "#8b4513", "strokeWidth": 0.4}},
      {"transform": [{"filter": "datum.c=='B95'"}], "mark": {"type": "line", "interpolate": "cardinal-closed", "clip": true, "fill": "#ffd893", "fillOpacity": 0.88, "stroke": "#f3c060", "strokeWidth": 0.6}},
      {"transform": [{"filter": "datum.c=='B68'"}], "mark": {"type": "line", "interpolate": "cardinal-closed", "clip": true, "fill": "#ffab13", "fillOpacity": 0.88, "stroke": "#f5a623", "strokeWidth": 0.4}},
      {"mark": {"type": "point", "opacity": 0, "clip": true}, "encoding": {
        "x": {"field": "x", "type": "quantitative", "scale": {"domain": [0, 1.36]}, "axis": {"values": [0.3, 0.6, 0.9, 1.2], "format": ".1f", "title": "Σ mν [eV]", "titleY": 21, "titleBaseline": "middle"}},
        "y": {"field": "y", "type": "quantitative", "scale": {"domain": [0.25, 2.25]}, "axis": {"values": [0.5, 1, 1.5, 2], "labels": false, "title": null}}}},
      {"mark": {"type": "point", "opacity": 0, "clip": true}, "encoding": {
        "x": {"field": "x", "type": "quantitative", "scale": {"domain": [0, 1.36]}, "axis": {"orient": "top", "values": [0.3, 0.6, 0.9, 1.2], "labels": false, "title": null}},
        "y": {"field": "y", "type": "quantitative", "scale": {"domain": [0.25, 2.25]}, "axis": {"orient": "right", "values": [0.5, 1, 1.5, 2], "labels": false, "title": null}}}}
     ],
     "resolve": {"axis": {"x": "independent", "y": "independent"}}},
    {"width": 105.6, "height": 106.1,
     "data": {"values": [
      {"s":"A","x":0.25,"d":0.0},{"s":"A","x":0.275,"d":0.007},{"s":"A","x":0.464,"d":0.07},{"s":"A","x":0.621,"d":0.24},{"s":"A","x":0.748,"d":0.52},{"s":"A","x":0.875,"d":0.83},{"s":"A","x":1.0,"d":1.0},{"s":"A","x":1.127,"d":0.934},{"s":"A","x":1.284,"d":0.69},{"s":"A","x":1.443,"d":0.415},{"s":"A","x":1.6,"d":0.208},{"s":"A","x":1.758,"d":0.087},{"s":"A","x":1.917,"d":0.028},{"s":"A","x":2.074,"d":0.007},{"s":"A","x":2.25,"d":0.0},
      {"s":"B","x":0.3,"d":0.0},{"s":"B","x":0.337,"d":0.007},{"s":"B","x":0.432,"d":0.07},{"s":"B","x":0.515,"d":0.415},{"s":"B","x":0.565,"d":0.8},{"s":"B","x":0.61,"d":1.0},{"s":"B","x":0.667,"d":0.865},{"s":"B","x":0.716,"d":0.52},{"s":"B","x":0.78,"d":0.173},{"s":"B","x":0.843,"d":0.035},{"s":"B","x":0.937,"d":0.007},{"s":"B","x":1.0,"d":0.0}
     ]},
     "encoding": {
      "x": {"field": "x", "type": "quantitative", "scale": {"domain": [0.25, 2.25]}, "axis": {"values": [0.5, 1, 1.5, 2], "format": ".1f", "title": "(1−b)", "titleY": 21, "titleBaseline": "middle"}},
      "y": {"field": "d", "type": "quantitative", "scale": {"domain": [0, 1.1]}, "axis": null}
     },
     "layer": [
      {"data": {"values": [{"x": 0.8, "d": 0, "d2": 1.1}]}, "mark": {"type": "rule", "stroke": "#999", "strokeDash": [4, 3], "strokeWidth": 1.2}, "encoding": {"y2": {"field": "d2"}}},
      {"transform": [{"filter": "datum.s=='A'"}], "mark": {"type": "line", "interpolate": "monotone", "clip": true, "stroke": "#8b4513", "strokeWidth": 1}},
      {"transform": [{"filter": "datum.s=='B'"}], "mark": {"type": "line", "interpolate": "monotone", "clip": true, "stroke": "#ffa500", "strokeWidth": 1}}
     ]}
  ]
}
